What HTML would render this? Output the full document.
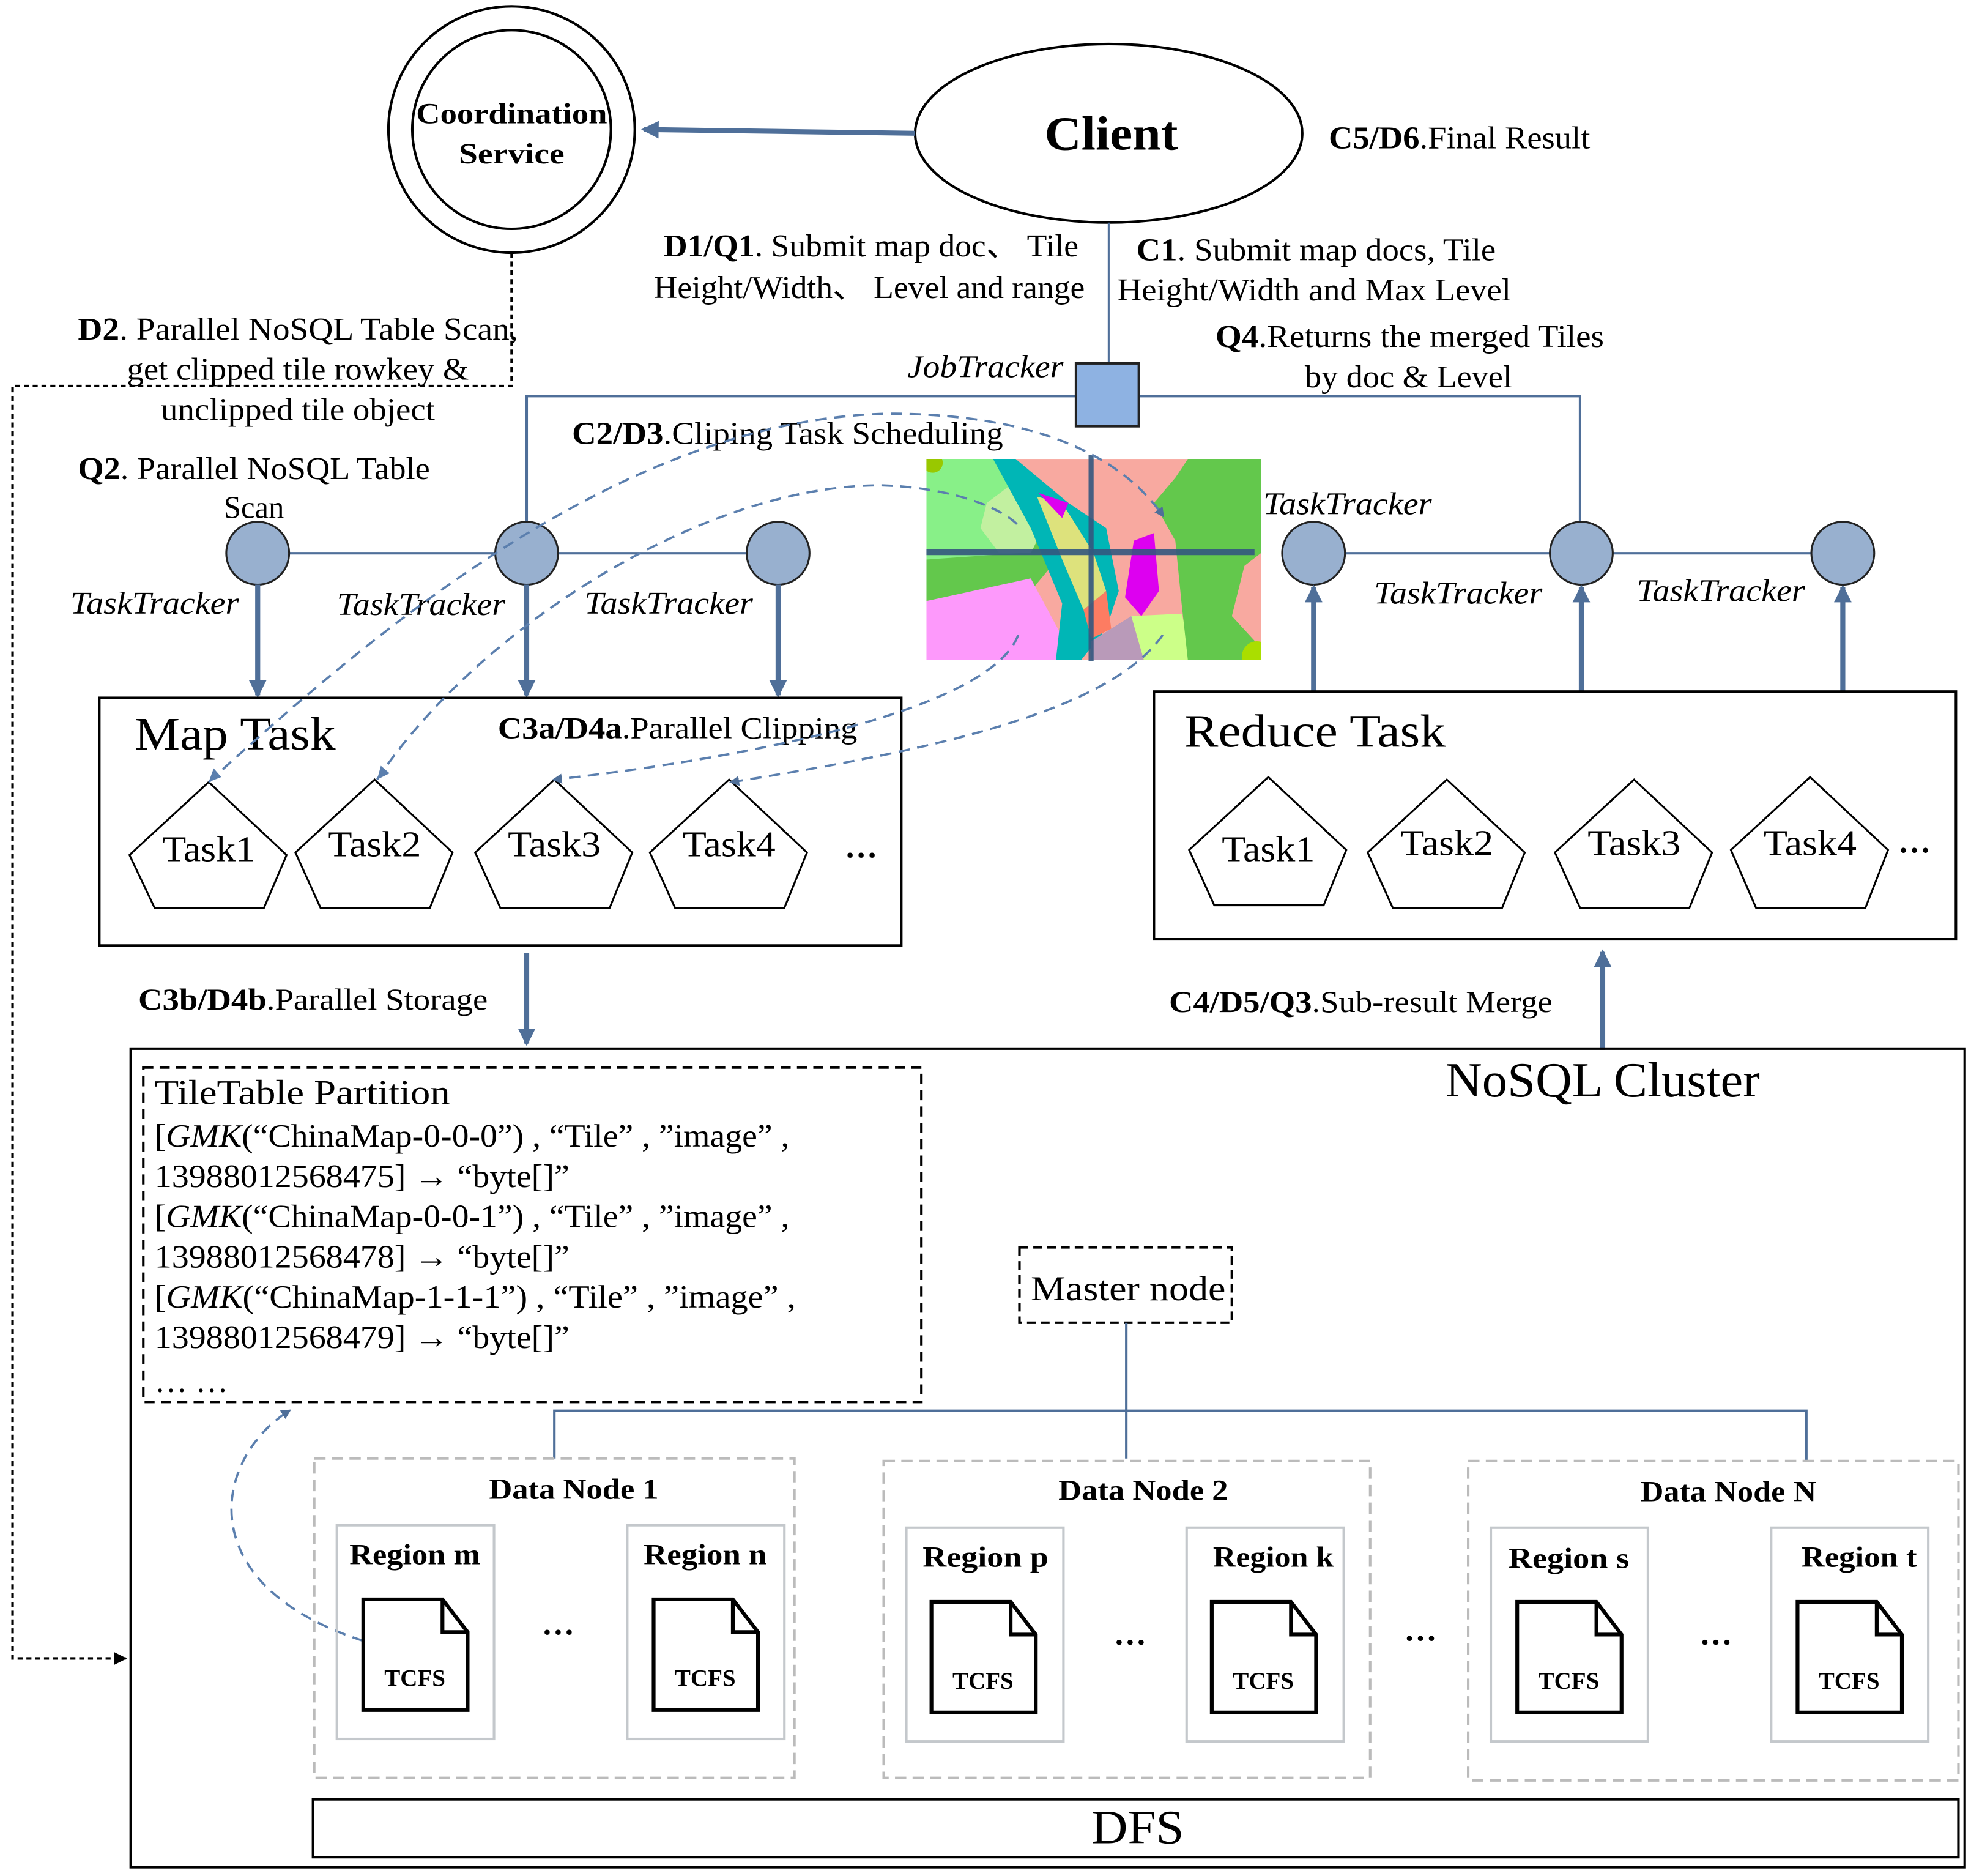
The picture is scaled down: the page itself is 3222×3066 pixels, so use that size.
<!DOCTYPE html>
<html><head><meta charset="utf-8"><style>
html,body{margin:0;padding:0;background:#fff;}
svg{display:block;}
text{font-family:"Liberation Serif",serif;fill:#000;}
.b{font-weight:bold;}
.i{font-style:italic;}
</style></head><body>
<svg width="3222" height="3066" viewBox="0 0 1568 1492" preserveAspectRatio="none" xmlns="http://www.w3.org/2000/svg">
<defs>
<marker id="ah" markerWidth="8" markerHeight="8" refX="6" refY="4" orient="auto" markerUnits="userSpaceOnUse"><path d="M0,0 L8,4 L0,8 z" fill="#4f6f99"/></marker>
<marker id="ahb" markerWidth="14" markerHeight="14" refX="12" refY="7" orient="auto" markerUnits="userSpaceOnUse"><path d="M0,0 L14,7 L0,14 z" fill="#4f6f99"/></marker>
<marker id="ahk" markerWidth="10" markerHeight="10" refX="9" refY="5" orient="auto" markerUnits="userSpaceOnUse"><path d="M0,0 L10,5 L0,10 z" fill="#000"/></marker>
<clipPath id="mc"><rect x="737" y="365" width="266" height="160"/></clipPath>
</defs>

<!-- Coordination service -->
<circle cx="407" cy="103" r="98" fill="none" stroke="#000" stroke-width="2"/>
<circle cx="407" cy="103" r="79" fill="none" stroke="#000" stroke-width="2"/>
<text x="407" y="98" class="b" font-size="23" text-anchor="middle" textLength="152" lengthAdjust="spacingAndGlyphs">Coordination</text>
<text x="407" y="130" class="b" font-size="23" text-anchor="middle" textLength="84" lengthAdjust="spacingAndGlyphs">Service</text>

<!-- Client -->
<ellipse cx="882" cy="106" rx="154" ry="71" fill="none" stroke="#000" stroke-width="2"/>
<text x="884" y="119" class="b" font-size="38" text-anchor="middle" textLength="106" lengthAdjust="spacingAndGlyphs">Client</text>
<line x1="728" y1="106" x2="512" y2="103" stroke="#4f6f99" stroke-width="4" marker-end="url(#ahb)"/>
<text x="1057" y="118" font-size="25" textLength="208" lengthAdjust="spacingAndGlyphs"><tspan class="b">C5/D6</tspan>.Final Result</text>

<text x="528" y="204" font-size="25" textLength="330" lengthAdjust="spacingAndGlyphs"><tspan class="b">D1/Q1</tspan>. Submit map doc、 Tile</text>
<text x="520" y="237" font-size="25" textLength="343" lengthAdjust="spacingAndGlyphs">Height/Width、 Level and range</text>
<text x="904" y="207" font-size="25" textLength="286" lengthAdjust="spacingAndGlyphs"><tspan class="b">C1</tspan>. Submit map docs, Tile</text>
<text x="889" y="239" font-size="25" textLength="313" lengthAdjust="spacingAndGlyphs">Height/Width and Max Level</text>
<text x="967" y="276" font-size="25" textLength="309" lengthAdjust="spacingAndGlyphs"><tspan class="b">Q4</tspan>.Returns the merged Tiles</text>
<text x="1038" y="308" font-size="25" textLength="165" lengthAdjust="spacingAndGlyphs">by doc &amp; Level</text>
<text x="722" y="300" class="i" font-size="25" textLength="124" lengthAdjust="spacingAndGlyphs">JobTracker</text>

<!-- jobtracker lines -->
<line x1="882" y1="177" x2="882" y2="290" stroke="#4f6f99" stroke-width="1.5"/>
<polyline points="419,415 419,315 1257,315 1257,415" fill="none" stroke="#4f6f99" stroke-width="2"/>
<rect x="856" y="289" width="50" height="50" fill="#8eb2e2" stroke="#222" stroke-width="2"/>

<!-- D2 labels -->
<text x="62" y="270" font-size="25" textLength="350" lengthAdjust="spacingAndGlyphs"><tspan class="b">D2</tspan>. Parallel NoSQL Table Scan,</text>
<text x="101" y="302" font-size="25" textLength="272" lengthAdjust="spacingAndGlyphs">get clipped tile rowkey &amp;</text>
<text x="128" y="334" font-size="25" textLength="218" lengthAdjust="spacingAndGlyphs">unclipped tile object</text>
<text x="455" y="353" font-size="25" textLength="343" lengthAdjust="spacingAndGlyphs"><tspan class="b">C2/D3</tspan>.Cliping Task Scheduling</text>
<text x="62" y="381" font-size="25" textLength="280" lengthAdjust="spacingAndGlyphs"><tspan class="b">Q2</tspan>. Parallel NoSQL Table</text>
<text x="178" y="412" font-size="25" textLength="48" lengthAdjust="spacingAndGlyphs">Scan</text>

<!-- dotted path -->
<polyline points="407,201 407,307 10,307 10,1319 100,1319" fill="none" stroke="#000" stroke-width="2" stroke-dasharray="4,3" marker-end="url(#ahk)"/>

<!-- map image -->
<g clip-path="url(#mc)">
<rect x="737" y="365" width="266" height="160" fill="#f8a9a0"/>
<path d="M737,365 L800,365 L830,400 L835,420 L810,450 L737,465 Z" fill="#88f088"/>
<path d="M737,445 L810,440 L835,420 L845,440 L820,470 L737,480 Z" fill="#63c84c"/>
<path d="M785,400 L805,385 L835,410 L820,440 L795,440 L780,420 Z" fill="#c2f0a0"/>
<path d="M737,478 L820,460 L855,525 L737,525 Z" fill="#fd99fb"/>
<path d="M790,365 L808,365 L850,400 L880,420 L890,470 L880,500 L860,525 L840,525 L845,480 L820,420 Z" fill="#00b6b6"/>
<path d="M825,395 L845,400 L870,440 L880,470 L862,485 L845,445 Z" fill="#dde27c"/>
<path d="M826,392 L850,400 L845,412 Z" fill="#dd00f0"/>
<path d="M862,485 L880,470 L884,500 L868,508 Z" fill="#fd7c62"/>
<path d="M902,430 L918,424 L922,470 L908,490 L895,475 Z" fill="#dd00f0"/>
<path d="M868,510 L900,490 L910,525 L868,525 Z" fill="#b99ab9"/>
<path d="M900,490 L940,488 L950,525 L910,525 Z" fill="#ccff88"/>
<path d="M945,365 L1003,365 L1003,440 L990,450 L980,490 L1003,515 L1003,525 L945,525 L940,480 L935,430 L918,400 L935,380 Z" fill="#63c84c"/>
<circle cx="1000" cy="522" r="12" fill="#aade00"/>
<circle cx="742" cy="368" r="8" fill="#99c800"/>
</g>
<line x1="737" y1="439" x2="998" y2="439" stroke="#34577f" stroke-width="5" opacity="0.9"/>
<line x1="868" y1="362" x2="868" y2="526" stroke="#34577f" stroke-width="4" opacity="0.9"/>

<!-- left task trackers -->
<line x1="205" y1="440" x2="619" y2="440" stroke="#4f6f99" stroke-width="2"/>
<line x1="1045" y1="440" x2="1466" y2="440" stroke="#4f6f99" stroke-width="2"/>
<g fill="#98b0cf" stroke="#222" stroke-width="1.5">
<circle cx="205" cy="440" r="25"/><circle cx="419" cy="440" r="25"/><circle cx="619" cy="440" r="25"/>
<circle cx="1045" cy="440" r="25"/><circle cx="1258" cy="440" r="25"/><circle cx="1466" cy="440" r="25"/>
</g>
<g stroke="#4f6f99" stroke-width="4" marker-end="url(#ahb)">
<line x1="205" y1="465" x2="205" y2="553"/><line x1="419" y1="465" x2="419" y2="553"/><line x1="619" y1="465" x2="619" y2="553"/>
<line x1="1045" y1="550" x2="1045" y2="467"/><line x1="1258" y1="550" x2="1258" y2="467"/><line x1="1466" y1="550" x2="1466" y2="467"/>
</g>
<g class="i" font-size="25">
<text x="56" y="488" class="i" textLength="134" lengthAdjust="spacingAndGlyphs">TaskTracker</text>
<text x="268" y="489" class="i" textLength="134" lengthAdjust="spacingAndGlyphs">TaskTracker</text>
<text x="465" y="488" class="i" textLength="134" lengthAdjust="spacingAndGlyphs">TaskTracker</text>
<text x="1005" y="409" class="i" textLength="134" lengthAdjust="spacingAndGlyphs">TaskTracker</text>
<text x="1093" y="480" class="i" textLength="134" lengthAdjust="spacingAndGlyphs">TaskTracker</text>
<text x="1302" y="478" class="i" textLength="134" lengthAdjust="spacingAndGlyphs">TaskTracker</text>
</g>

<!-- Map task box -->
<rect x="79" y="555" width="638" height="197" fill="none" stroke="#000" stroke-width="2"/>
<text x="107" y="596" font-size="37" textLength="160" lengthAdjust="spacingAndGlyphs">Map Task</text>
<text x="396" y="587" font-size="24" textLength="286" lengthAdjust="spacingAndGlyphs"><tspan class="b">C3a/D4a</tspan>.Parallel Clipping</text>
<g fill="#fff" stroke="#000" stroke-width="1.5">
<path d="M166,622 l62,58 l-18,42 l-87,0 l-20,-42 z"/>
<path d="M298,620 l62,58 l-18,44 l-87,0 l-20,-44 z"/>
<path d="M441,620 l62,58 l-18,44 l-87,0 l-20,-44 z"/>
<path d="M580,620 l62,58 l-18,44 l-87,0 l-20,-44 z"/>
</g>
<g font-size="29" text-anchor="middle">
<text x="166" y="685" textLength="74" lengthAdjust="spacingAndGlyphs">Task1</text>
<text x="298" y="681" textLength="74" lengthAdjust="spacingAndGlyphs">Task2</text>
<text x="441" y="681" textLength="74" lengthAdjust="spacingAndGlyphs">Task3</text>
<text x="580" y="681" textLength="74" lengthAdjust="spacingAndGlyphs">Task4</text>
</g>
<text x="672" y="682" class="b" font-size="26">…</text>

<!-- Reduce task box -->
<rect x="918" y="550" width="638" height="197" fill="none" stroke="#000" stroke-width="2"/>
<text x="942" y="594" font-size="37" textLength="208" lengthAdjust="spacingAndGlyphs">Reduce Task</text>
<g fill="#fff" stroke="#000" stroke-width="1.5">
<path d="M1009,618 l62,58 l-18,44 l-87,0 l-20,-44 z"/>
<path d="M1151,620 l62,58 l-18,44 l-87,0 l-20,-44 z"/>
<path d="M1300,620 l62,58 l-18,44 l-87,0 l-20,-44 z"/>
<path d="M1440,618 l62,58 l-18,46 l-87,0 l-20,-46 z"/>
</g>
<g font-size="29" text-anchor="middle">
<text x="1009" y="685" textLength="74" lengthAdjust="spacingAndGlyphs">Task1</text>
<text x="1151" y="680" textLength="74" lengthAdjust="spacingAndGlyphs">Task2</text>
<text x="1300" y="680" textLength="74" lengthAdjust="spacingAndGlyphs">Task3</text>
<text x="1440" y="680" textLength="74" lengthAdjust="spacingAndGlyphs">Task4</text>
</g>
<text x="1510" y="678" class="b" font-size="26">…</text>

<!-- dashed curves -->
<g fill="none" stroke="#5b7fae" stroke-width="1.8" stroke-dasharray="9,6">
<path d="M166,622 C300,500 500,330 712,329 C820,330 890,360 925,410" marker-end="url(#ah)" transform=""/>
<path d="M300,620 C380,500 560,385 702,386 C760,388 800,405 812,420"/>
<path d="M810,505 C790,560 620,600 441,620" marker-end="url(#ah)"/>
<path d="M925,505 C880,570 720,600 582,622" marker-end="url(#ah)"/>
<path d="M289,1305 C150,1260 170,1160 230,1122" marker-end="url(#ah)"/>
</g>
<!-- arrowheads at task1/task2 tops -->
<path d="M166,622 l4,-11 l6,7 z" fill="#5b7fae"/>
<path d="M300,620 l3,-11 l7,6 z" fill="#5b7fae"/>

<!-- storage / merge -->
<line x1="419" y1="758" x2="419" y2="830" stroke="#4f6f99" stroke-width="4" marker-end="url(#ahb)"/>
<line x1="1275" y1="835" x2="1275" y2="757" stroke="#4f6f99" stroke-width="4" marker-end="url(#ahb)"/>
<text x="110" y="803" font-size="24" textLength="278" lengthAdjust="spacingAndGlyphs"><tspan class="b">C3b/D4b</tspan>.Parallel Storage</text>
<text x="930" y="805" font-size="24" textLength="305" lengthAdjust="spacingAndGlyphs"><tspan class="b">C4/D5/Q3</tspan>.Sub-result Merge</text>

<!-- NoSQL cluster -->
<rect x="104" y="834" width="1459" height="651" fill="none" stroke="#000" stroke-width="2"/>
<text x="1150" y="872" font-size="39" textLength="250" lengthAdjust="spacingAndGlyphs">NoSQL Cluster</text>

<rect x="114" y="849" width="619" height="266" fill="none" stroke="#000" stroke-width="2" stroke-dasharray="8,5"/>
<text x="123" y="878" font-size="28" textLength="235" lengthAdjust="spacingAndGlyphs">TileTable Partition</text>
<g font-size="26">
<text x="123" y="912" textLength="505" lengthAdjust="spacingAndGlyphs">[<tspan class="i">GMK</tspan>(“ChinaMap-0-0-0”) , “Tile” , ”image” ,</text>
<text x="123" y="944" textLength="330" lengthAdjust="spacingAndGlyphs">13988012568475] → “byte[]”</text>
<text x="123" y="976" textLength="505" lengthAdjust="spacingAndGlyphs">[<tspan class="i">GMK</tspan>(“ChinaMap-0-0-1”) , “Tile” , ”image” ,</text>
<text x="123" y="1008" textLength="330" lengthAdjust="spacingAndGlyphs">13988012568478] → “byte[]”</text>
<text x="123" y="1040" textLength="510" lengthAdjust="spacingAndGlyphs">[<tspan class="i">GMK</tspan>(“ChinaMap-1-1-1”) , “Tile” , ”image” ,</text>
<text x="123" y="1072" textLength="330" lengthAdjust="spacingAndGlyphs">13988012568479] → “byte[]”</text>
<text x="123" y="1107">… …</text>
</g>

<rect x="811" y="992" width="169" height="60" fill="none" stroke="#000" stroke-width="2" stroke-dasharray="7,4"/>
<text x="820" y="1034" font-size="28" textLength="155" lengthAdjust="spacingAndGlyphs">Master node</text>
<polyline points="896,1052 896,1160" fill="none" stroke="#4f6f99" stroke-width="2"/>
<polyline points="441,1160 441,1122 1437,1122 1437,1162" fill="none" stroke="#4f6f99" stroke-width="2"/>

<g fill="none" stroke="#bbb" stroke-width="2" stroke-dasharray="9,5">
<rect x="250" y="1160" width="382" height="254"/>
<rect x="703" y="1162" width="387" height="252"/>
<rect x="1168" y="1162" width="390" height="254"/>
</g>
<g class="b" font-size="23">
<text x="389" y="1192" textLength="135" lengthAdjust="spacingAndGlyphs">Data Node 1</text>
<text x="842" y="1193" textLength="135" lengthAdjust="spacingAndGlyphs">Data Node 2</text>
<text x="1305" y="1194" textLength="140" lengthAdjust="spacingAndGlyphs">Data Node N</text>
</g>

<g fill="none" stroke="#c4c8cc" stroke-width="2">
<rect x="268" y="1213" width="125" height="170"/>
<rect x="499" y="1213" width="125" height="170"/>
<rect x="721" y="1215" width="125" height="170"/>
<rect x="944" y="1215" width="125" height="170"/>
<rect x="1186" y="1215" width="125" height="170"/>
<rect x="1409" y="1215" width="125" height="170"/>
</g>
<g class="b" font-size="23">
<text x="278" y="1244" textLength="104" lengthAdjust="spacingAndGlyphs">Region m</text>
<text x="512" y="1244" textLength="98" lengthAdjust="spacingAndGlyphs">Region n</text>
<text x="734" y="1246" textLength="100" lengthAdjust="spacingAndGlyphs">Region p</text>
<text x="965" y="1246" textLength="96" lengthAdjust="spacingAndGlyphs">Region k</text>
<text x="1200" y="1247" textLength="96" lengthAdjust="spacingAndGlyphs">Region s</text>
<text x="1433" y="1246" textLength="92" lengthAdjust="spacingAndGlyphs">Region t</text>
</g>
<g fill="#fff" stroke="#000" stroke-width="3">
<path d="M289,1272 h63 l20,26 v62 h-83 z M352,1272 v26 h20"/>
<path d="M520,1272 h63 l20,26 v62 h-83 z M583,1272 v26 h20"/>
<path d="M741,1274 h63 l20,26 v62 h-83 z M804,1274 v26 h20"/>
<path d="M964,1274 h63 l20,26 v62 h-83 z M1027,1274 v26 h20"/>
<path d="M1207,1274 h63 l20,26 v62 h-83 z M1270,1274 v26 h20"/>
<path d="M1430,1274 h63 l20,26 v62 h-83 z M1493,1274 v26 h20"/>
</g>
<g class="b" font-size="19" text-anchor="middle">
<text x="330" y="1341">TCFS</text>
<text x="561" y="1341">TCFS</text>
<text x="782" y="1343">TCFS</text>
<text x="1005" y="1343">TCFS</text>
<text x="1248" y="1343">TCFS</text>
<text x="1471" y="1343">TCFS</text>
</g>
<g class="b" font-size="26" text-anchor="middle">
<text x="444" y="1300">…</text>
<text x="899" y="1308">…</text>
<text x="1130" y="1305">…</text>
<text x="1365" y="1308">…</text>
</g>

<rect x="249" y="1431" width="1309" height="46" fill="none" stroke="#000" stroke-width="2"/>
<text x="905" y="1466" font-size="38" text-anchor="middle" textLength="74" lengthAdjust="spacingAndGlyphs">DFS</text>
</svg>
</body></html>
